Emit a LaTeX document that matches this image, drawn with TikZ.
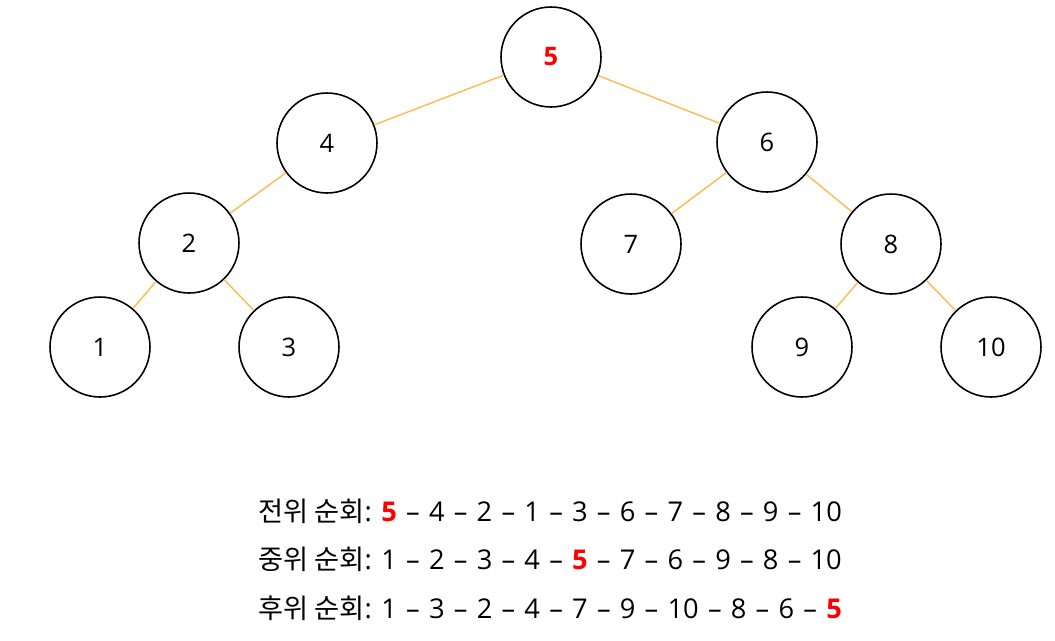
\documentclass[tikz,border=0pt]{standalone}
\usepackage{fontspec}
\setmainfont{Open Sans}
\newfontfamily\kor{Noto Sans CJK KR}
\usepackage{tikz}
\usetikzlibrary{positioning}

\definecolor{edgeorange}{RGB}{255,185,80}
\definecolor{hired}{RGB}{255,0,0}
\newcommand{\hot}{\textcolor{hired}{\bfseries 5}}
\newcommand{\dd}{\hspace{.34em}--\hspace{.34em}}

\tikzset{
  vtx/.style={circle, draw=black, line width=.9pt, minimum size=2cm, inner sep=0pt, font=\fontsize{14.5}{16}\selectfont},
  link/.style={draw=edgeorange, line width=.8pt},
  order/.style={anchor=west, inner sep=0pt, font=\fontsize{15.5}{18}\selectfont}
}

\begin{document}
\begin{tikzpicture}[x=.02cm, y=-.02cm]
    \useasboundingbox (0,0) rectangle (1055,640);
    % tree
    \node[vtx] (n5) at (551,57) {\hot};
    \node[vtx] (n4) at (327,143) {4};
    \node[vtx] (n6) at (767,142) {6};
    \node[vtx] (n2) at (189,243) {2};
    \node[vtx] (n7) at (631,244) {7};
    \node[vtx] (n8) at (891,244) {8};
    \node[vtx] (n1) at (100,347) {1};
    \node[vtx] (n3) at (289,347) {3};
    \node[vtx] (n9) at (802,347) {9};
    \node[vtx] (n10) at (991,347) {10};
    \draw[link] (n5) -- (n4);
    \draw[link] (n5) -- (n6);
    \draw[link] (n4) -- (n2);
    \draw[link] (n2) -- (n1);
    \draw[link] (n2) -- (n3);
    \draw[link] (n6) -- (n7);
    \draw[link] (n6) -- (n8);
    \draw[link] (n8) -- (n9);
    \draw[link] (n8) -- (n10);
    % traversals
    \node[order] (pre) at (258,511) {{\kor 전위 순회}: \hot\dd 4\dd 2\dd 1\dd 3\dd 6\dd 7\dd 8\dd 9\dd 10};
    \node[order] (in) at (258,559) {{\kor 중위 순회}: 1\dd 2\dd 3\dd 4\dd \hot\dd 7\dd 6\dd 9\dd 8\dd 10};
    \node[order] (post) at (258,608) {{\kor 후위 순회}: 1\dd 3\dd 2\dd 4\dd 7\dd 9\dd 10\dd 8\dd 6\dd \hot};
\end{tikzpicture}
\end{document}
